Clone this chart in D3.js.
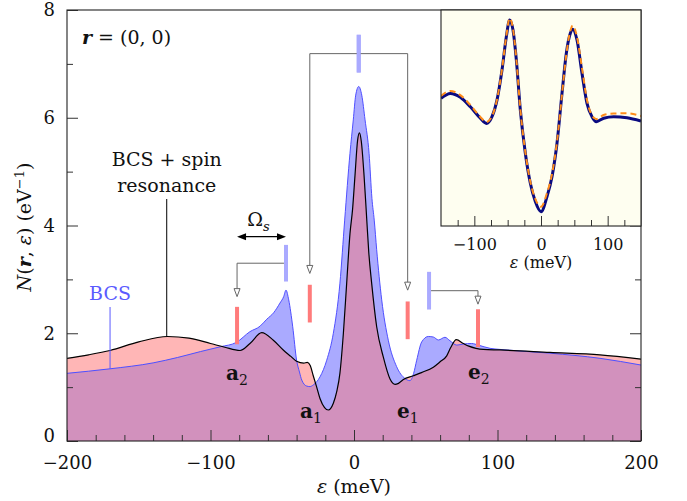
<!DOCTYPE html>
<html>
<head>
<meta charset="utf-8">
<script src="https://cdn.jsdelivr.net/npm/d3@7"></script>
<style>
  body { margin: 0; background: #fff; }
  svg { display: block; }
  text { font-family: "DejaVu Serif", serif; fill: #111; }
</style>
</head>
<body>
<svg id="chart" width="687" height="501"></svg>
<script>
// Local density of states at r = (0,0): pure BCS (meV, 1/eV)
const bcsEnergy = [-200,-170,-140,-123,-107,-93,-82,-72.5,-65.5,-60.8,-56,-51.6,-49,-47.4,-45.5,
  -42.7,-40,-38,-36.4,-33,-30.7,-28.4,-23.7,-19,-14.4,-9.8,-6.5,-2.8,-0.5,1.2,3.3,5.4,7.7,10.5,12.5,14.1,15.8,
  19.3,23.9,29.7,35.5,39,41.5,43.7,47.2,51.8,55.3,58.8,63.4,66.9,71.6,76.2,82,86.6,94.8,101.7,136.6,171.4,200];
const bcsDos = [1.256,1.34,1.45,1.55,1.66,1.75,1.83,2.03,2.13,2.26,2.38,2.56,2.68,2.80,2.62,
  2.12,1.5,1.28,1.13,1.02,1.01,1.04,1.19,1.5,2.0,2.93,4.1,5.34,5.96,6.42,6.58,6.42,5.96,5.34,4.5,4.1,3.55,
  2.62,1.87,1.38,1.16,1.12,1.25,1.50,1.84,1.94,1.93,1.875,1.925,1.86,1.78,1.80,1.81,1.78,1.72,1.70,1.63,1.535,1.41];

// BCS + spin resonance
const spinEnergy = [-200,-185,-170,-150,-130,-115,-100,-90,-79.4,-72.5,-64.3,-56.2,-49.3,-44,-40,
  -35,-32.5,-30.5,-28.5,-26,-23.7,-20.5,-17.9,-14.4,-12,-9.8,-7.4,-5.1,-2.8,-1,0.7,2.5,3.8,5.1,7.0,
  8.8,10.3,12.3,15.8,20.4,25.1,28.6,31,34.4,41.3,47,55.3,60,64.6,67.5,71.3,76.2,80,85,90.1,101.7,136.6,171.4,200];
const spinDos = [1.535,1.60,1.68,1.84,1.94,1.91,1.81,1.74,1.68,1.81,2.01,1.87,1.69,1.57,1.48,
  1.445,1.46,1.40,1.22,1.0,0.79,0.62,0.575,0.70,0.92,1.26,2.0,2.93,3.85,4.3,4.93,5.58,5.72,5.56,4.93,
  4.15,3.5,2.93,2.12,1.56,1.15,1.05,1.07,1.14,1.21,1.27,1.37,1.47,1.58,1.74,1.88,1.81,1.76,1.72,1.70,1.69,1.645,1.60,1.52];

const xTicks = [-200, -100, 0, 100, 200];
const xMinorTicks = d3.range(-180, 200, 20).filter(v => v % 100 !== 0);
const yTicks = [0, 2, 4, 6, 8];
const yMinorTicks = [1, 3, 5, 7];

// BCS coherence features (blue marks) and their replicas shifted by the resonance energy (red marks)
const bluePeakEnergy = [-47.4, 3.3, 52.3];
const redMarkEnergy = [-81.5, -30.8, 37.4, 86.4];

// Inset: spectra on an arbitrary scale
const insetEnergy = [-150,-136,-121,-106,-91,-82,-73.5,-66,-58.5,-52,-47,-42,-37,-31,-23.5,-16,-8.5,0,
  9,16.5,24,31.5,38,44,47.5,54,61.5,69,76.5,83,94,109,129,150];
const insetSolid = [5.91,6.14,5.96,5.52,4.99,4.75,5.06,5.83,7.22,8.76,9.54,9.07,7.69,5.37,3.37,1.98,1.13,0.66,
  1.36,2.28,3.83,6.14,8.0,8.92,9.11,8.61,7.07,5.68,5.06,4.83,4.99,5.06,5.01,4.86];
const insetDashed = [6.02,6.25,6.06,5.60,5.05,4.81,5.08,5.85,7.25,8.80,9.62,9.12,7.72,5.40,3.42,2.05,1.25,0.89,
  1.53,2.40,3.90,6.10,7.95,9.03,9.28,8.75,7.31,5.83,5.12,4.95,5.14,5.21,5.22,5.09];
const insetTicks = [-100, 0, 100];
const insetMinorTicks = [-125, -75, -50, -25, 25, 50, 75, 125];

const svg = d3.select("#chart");
const L = 67, R = 641, T = 10, B = 441;
const x = d3.scaleLinear().domain([-200, 200]).range([L, R]);
const y = d3.scaleLinear().domain([0, 8]).range([B, T]);

const bcs = bcsEnergy.map((e, i) => [e, bcsDos[i]]);
const spin = spinEnergy.map((e, i) => [e, spinDos[i]]);

const area = d3.area().x(d => x(d[0])).y0(y(0)).y1(d => y(d[1])).curve(d3.curveMonotoneX);
const line = d3.line().x(d => x(d[0])).y(d => y(d[1])).curve(d3.curveMonotoneX);

const defs = svg.append("defs");
defs.append("clipPath").attr("id", "plotClip")
  .append("rect").attr("x", L).attr("y", T).attr("width", R - L).attr("height", B - T);
defs.append("clipPath").attr("id", "bcsClip")
  .append("path").attr("d", area(bcs));

const plot = svg.append("g").attr("clip-path", "url(#plotClip)");
plot.append("path").attr("d", area(spin)).attr("fill", "#ffb6b6");
plot.append("path").attr("d", area(bcs)).attr("fill", "#aaaaff");
plot.append("g").attr("clip-path", "url(#bcsClip)")
  .append("path").attr("d", area(spin)).attr("fill", "#d291bd");
plot.append("path").attr("d", line(bcs)).attr("fill", "none").attr("stroke", "#4f4fff").attr("stroke-width", 1);
plot.append("path").attr("d", line(spin)).attr("fill", "none").attr("stroke", "#000").attr("stroke-width", 1.2);

// Axes with inward ticks
function styleAxis(g) {
  g.select(".domain").remove();
  g.selectAll(".tick line").attr("stroke", "#333");
  g.selectAll("text").attr("font-family", "DejaVu Serif").attr("fill", "#111");
}
svg.append("g").attr("transform", `translate(0,${B})`)
  .call(d3.axisBottom(x).tickValues(xTicks).tickSize(-11).tickPadding(15).tickFormat(d3.format("d")))
  .attr("font-size", 18).call(styleAxis);
svg.append("g").attr("transform", `translate(0,${B})`)
  .call(d3.axisBottom(x).tickValues(xMinorTicks).tickSize(-6).tickFormat(""))
  .call(styleAxis);
const yAxisG = svg.append("g").attr("transform", `translate(${L},0)`)
  .call(d3.axisLeft(y).tickValues(yTicks).tickSize(-11).tickPadding(12).tickFormat(d3.format("d")))
  .attr("font-size", 18).call(styleAxis);
yAxisG.selectAll(".tick").filter(d => d === 0).select("text").attr("dy", "0.05em");
svg.append("g").attr("transform", `translate(${L},0)`)
  .call(d3.axisLeft(y).tickValues(yMinorTicks).tickSize(-6).tickFormat(""))
  .call(styleAxis);
svg.append("g").attr("transform", `translate(${R},0)`)
  .call(d3.axisRight(y).tickValues(yTicks).tickSize(-11).tickFormat(""))
  .call(styleAxis);
svg.append("g").attr("transform", `translate(${R},0)`)
  .call(d3.axisRight(y).tickValues(yMinorTicks).tickSize(-6).tickFormat(""))
  .call(styleAxis);
svg.append("rect").attr("x", L).attr("y", T).attr("width", R - L).attr("height", B - T)
  .attr("fill", "none").attr("stroke", "#222").attr("stroke-width", 1.1);

// Axis titles
svg.append("text").attr("x", (L + R) / 2).attr("y", 493).attr("text-anchor", "middle").attr("font-size", 19)
  .html('<tspan font-style="italic">ε</tspan>  (meV)');
svg.append("text").attr("transform", "translate(31,227) rotate(-90)").attr("text-anchor", "middle").attr("font-size", 19)
  .html('<tspan font-style="italic">N</tspan>(<tspan font-style="italic" font-weight="bold">r</tspan>, <tspan font-style="italic">ε</tspan>) (eV<tspan dy="-7" font-size="13">−1</tspan><tspan dy="7">)</tspan>');

// Position label
svg.append("text").attr("x", 82).attr("y", 44).attr("font-size", 19)
  .html('<tspan font-style="italic" font-weight="bold">r</tspan> = (0, 0)');

// Curve labels with leaders
svg.append("text").attr("x", x(-130.5)).attr("y", 166).attr("text-anchor", "middle").attr("font-size", 19).text("BCS + spin");
svg.append("text").attr("x", x(-130.5)).attr("y", 192).attr("text-anchor", "middle").attr("font-size", 19).text("resonance");
svg.append("line").attr("x1", x(-130.5)).attr("x2", x(-130.5)).attr("y1", 199).attr("y2", y(1.94))
  .attr("stroke", "#000").attr("stroke-width", 1);
svg.append("text").attr("x", x(-170)).attr("y", 300).attr("text-anchor", "middle").attr("font-size", 19)
  .style("fill", "#5a5aff").text("BCS");
svg.append("line").attr("x1", x(-170)).attr("x2", x(-170)).attr("y1", 307).attr("y2", y(1.34))
  .attr("stroke", "#5a5aff").attr("stroke-width", 1);

// Marker bars
const blueBarSpan = [[3.64, 2.96], [7.54, 6.84], [3.14, 2.44]];
const redBarSpan = [[2.49, 1.795], [2.90, 2.20], [2.59, 1.89], [2.445, 1.74]];
svg.selectAll(".bluebar").data(bluePeakEnergy).join("line")
  .attr("x1", d => x(d)).attr("x2", d => x(d))
  .attr("y1", (d, i) => y(blueBarSpan[i][0])).attr("y2", (d, i) => y(blueBarSpan[i][1]))
  .attr("stroke", "#aaaaff").attr("stroke-width", 4);
svg.selectAll(".redbar").data(redMarkEnergy).join("line")
  .attr("x1", d => x(d)).attr("x2", d => x(d))
  .attr("y1", (d, i) => y(redBarSpan[i][0])).attr("y2", (d, i) => y(redBarSpan[i][1]))
  .attr("stroke", "#ff7b7b").attr("stroke-width", 4);

// Connectors from blue marks to shifted red marks
const conn = svg.append("g").attr("fill", "none").attr("stroke", "#666").attr("stroke-width", 1);
function openHead(px, py) {
  conn.append("path").attr("d", `M${px},${py} L${px - 3},${py - 8} L${px + 3},${py - 8} Z`).attr("fill", "#fff");
}
// left
conn.append("path").attr("d", `M${x(bluePeakEnergy[0]) - 2},${y(3.30)} H${x(redMarkEnergy[0])} V${y(2.68) - 8}`);
openHead(x(redMarkEnergy[0]), y(2.68));
// central
conn.append("path").attr("d", `M${x(redMarkEnergy[1])},${y(3.11) - 8} V${y(7.19)} H${x(redMarkEnergy[2])} V${y(2.80) - 8}`);
openHead(x(redMarkEnergy[1]), y(3.11));
openHead(x(redMarkEnergy[2]), y(2.80));
// right
conn.append("path").attr("d", `M${x(bluePeakEnergy[2]) + 2},${y(2.79)} H${x(redMarkEnergy[3])} V${y(2.54) - 8}`);
openHead(x(redMarkEnergy[3]), y(2.54));
// redraw the central blue bar over its connector
svg.append("line").attr("x1", x(bluePeakEnergy[1])).attr("x2", x(bluePeakEnergy[1]))
  .attr("y1", y(blueBarSpan[1][0])).attr("y2", y(blueBarSpan[1][1]))
  .attr("stroke", "#aaaaff").attr("stroke-width", 4);

// Omega_s double arrow
const ay = 236.7, ax1 = x(redMarkEnergy[0]), ax2 = x(bluePeakEnergy[0]);
svg.append("line").attr("x1", ax1 + 4).attr("x2", ax2 - 4).attr("y1", ay).attr("y2", ay)
  .attr("stroke", "#000").attr("stroke-width", 1.3);
svg.append("path").attr("d", `M${ax1},${ay} l9,-3.5 l0,7 Z M${ax2},${ay} l-9,-3.5 l0,7 Z`).attr("fill", "#000");
svg.append("text").attr("x", (ax1 + ax2) / 2 - 3).attr("y", 226).attr("text-anchor", "middle").attr("font-size", 19)
  .html('Ω<tspan dy="5" font-size="13" font-style="italic">s</tspan>');

// Feature labels
function featLabel(letter, sub, px, py) {
  svg.append("text").attr("x", px).attr("y", py).attr("font-size", 20).attr("font-weight", "bold")
    .html(`${letter}<tspan dy="5" font-size="14" font-weight="normal">${sub}</tspan>`);
}
featLabel("a", "2", 226, 380);
featLabel("a", "1", 300, 418);
featLabel("e", "1", 397, 418);
featLabel("e", "2", 468, 379);

// Inset
const iL = 441, iR = 641, iT = 10, iB = 226;
const ix = d3.scaleLinear().domain([-150, 150]).range([iL, iR]);
const iy = d3.scaleLinear().domain([0, 10]).range([iB, iT]);
const inset = svg.append("g");
defs.append("clipPath").attr("id", "insetClip")
  .append("rect").attr("x", iL).attr("y", iT).attr("width", iR - iL).attr("height", iB - iT);
inset.append("rect").attr("x", iL).attr("y", iT).attr("width", iR - iL).attr("height", iB - iT)
  .attr("fill", "#fefef0");
const iline = d3.line().x(d => ix(d[0])).y(d => iy(d[1])).curve(d3.curveMonotoneX);
const ic = inset.append("g").attr("clip-path", "url(#insetClip)");
ic.append("path").attr("d", iline(insetEnergy.map((e, i) => [e, insetSolid[i]])))
  .attr("fill", "none").attr("stroke", "#0a0a80").attr("stroke-width", 3);
ic.append("path").attr("d", iline(insetEnergy.map((e, i) => [e, insetDashed[i]])))
  .attr("fill", "none").attr("stroke", "#ff8c1a").attr("stroke-width", 2).attr("stroke-dasharray", "6,4");
inset.append("g").attr("transform", `translate(0,${iB})`)
  .call(d3.axisBottom(ix).tickValues(insetTicks).tickSize(-10).tickPadding(13).tickFormat(d3.format("d")))
  .attr("font-size", 16).call(styleAxis);
inset.append("g").attr("transform", `translate(0,${iB})`)
  .call(d3.axisBottom(ix).tickValues(insetMinorTicks).tickSize(-6).tickFormat(""))
  .call(styleAxis);
inset.append("rect").attr("x", iL).attr("y", iT).attr("width", iR - iL).attr("height", iB - iT)
  .attr("fill", "none").attr("stroke", "#222").attr("stroke-width", 1.1);
inset.append("text").attr("x", (iL + iR) / 2).attr("y", 268).attr("text-anchor", "middle").attr("font-size", 16)
  .html('<tspan font-style="italic">ε</tspan>  (meV)');
</script>
</body>
</html>
